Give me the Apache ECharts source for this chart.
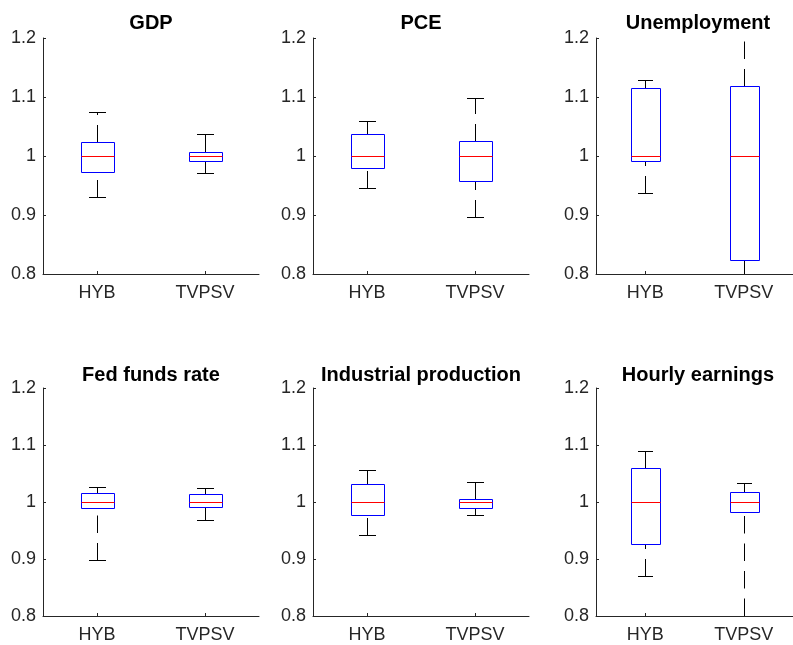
<!DOCTYPE html>
<html>
<head>
<meta charset="utf-8">
<script src="https://cdn.jsdelivr.net/npm/echarts@6/dist/echarts.min.js"></script>
<style>
html,body{margin:0;padding:0;background:#fff;}
#chart{width:793px;height:645px;}
</style>
</head>
<body>
<div id="chart"></div>
<script>
// ---- data ----
const panelTitles = ['GDP', 'PCE', 'Unemployment', 'Fed funds rate', 'Industrial production', 'Hourly earnings'];
const categories = ['HYB', 'TVPSV'];
const yTicks = [0.8, 0.9, 1.0, 1.1, 1.2];
// each box: [lower whisker, Q1, median, Q3, upper whisker]
const gdpBoxes          = [[0.930, 0.973, 1.000, 1.023, 1.074], [0.972, 0.991, 1.000, 1.007, 1.038]];
const pceBoxes          = [[0.946, 0.979, 1.000, 1.037, 1.059], [0.897, 0.958, 1.000, 1.025, 1.098]];
const unemploymentBoxes = [[0.937, 0.991, 1.000, 1.115, 1.129], [0.750, 0.823, 1.000, 1.118, 1.240]];
const fedFundsBoxes     = [[0.898, 0.990, 1.000, 1.016, 1.026], [0.969, 0.991, 1.000, 1.014, 1.025]];
const indProdBoxes      = [[0.942, 0.977, 1.000, 1.032, 1.057], [0.978, 0.989, 1.000, 1.005, 1.035]];
const earningsBoxes     = [[0.870, 0.927, 1.000, 1.060, 1.089], [0.740, 0.982, 1.000, 1.018, 1.033]];
const allBoxes = [gdpBoxes, pceBoxes, unemploymentBoxes, fedFundsBoxes, indProdBoxes, earningsBoxes];

// ---- layout ----
const grids = [
  {left: 43, top: 38, width: 216, height: 236},
  {left: 313, top: 38, width: 216, height: 236},
  {left: 596, top: 38, width: 204, height: 236},
  {left: 43, top: 388, width: 216, height: 228},
  {left: 313, top: 388, width: 216, height: 228},
  {left: 596, top: 388, width: 204, height: 228}
];
const titleTops = [13, 13, 13, 365, 365, 365];
const axisColor = '#262626';
const font = 'Liberation Sans, Arial, Helvetica, sans-serif';

function renderItem(params, api) {
  const xi = api.value(0);
  const lo = api.value(1), q1 = api.value(2), med = api.value(3), q3 = api.value(4), hi = api.value(5);
  const band = api.size([1, 0])[0];
  const cs = params.coordSys;
  const yTop = cs.y, yBot = cs.y + cs.height;
  const cl = y => Math.max(yTop, Math.min(yBot, y));
  const cx = Math.round(api.coord([xi, med])[0]) + 0.5;
  const py = v => Math.round(api.coord([xi, v])[1]) + 0.5;
  const halfBox = band * 0.15, halfCap = band * 0.075;
  const yLo = py(lo), yQ1 = py(q1), yMed = py(med), yQ3 = py(q3), yHi = py(hi);
  const dash = [17.5, 10];
  const kids = [];
  // lower whisker (drawn upward from the lower end)
  kids.push({type: 'line', shape: {x1: cx, y1: cl(yLo), x2: cx, y2: yQ1},
    style: {stroke: '#000', lineWidth: 1, lineDash: dash}});
  // upper whisker (drawn upward from the box)
  kids.push({type: 'line', shape: {x1: cx, y1: yQ3, x2: cx, y2: cl(yHi)},
    style: {stroke: '#000', lineWidth: 1, lineDash: dash}});
  if (yLo <= yBot) kids.push({type: 'line', shape: {x1: Math.round(cx - halfCap), y1: yLo, x2: Math.round(cx + halfCap), y2: yLo},
    style: {stroke: '#000', lineWidth: 1}});
  if (yHi >= yTop) kids.push({type: 'line', shape: {x1: Math.round(cx - halfCap), y1: yHi, x2: Math.round(cx + halfCap), y2: yHi},
    style: {stroke: '#000', lineWidth: 1}});
  const bx1 = Math.round(cx - halfBox) + 0.5, bx2 = Math.round(cx + halfBox) + 0.5;
  kids.push({type: 'rect', shape: {x: bx1, y: yQ3, width: bx2 - bx1, height: yQ1 - yQ3},
    style: {stroke: '#0000ff', fill: null, lineWidth: 1}});
  kids.push({type: 'line', shape: {x1: bx1, y1: yMed, x2: bx2, y2: yMed},
    style: {stroke: '#ff0000', lineWidth: 1}});
  return {type: 'group', children: kids};
}

const option = {
  animation: false,
  backgroundColor: '#fff',
  title: panelTitles.map((t, i) => ({
    text: t,
    left: grids[i].left + grids[i].width / 2,
    top: titleTops[i],
    textAlign: 'center',
    padding: 0,
    textStyle: {fontFamily: font, fontSize: 20, fontWeight: 'bold', color: '#000'}
  })),
  grid: grids,
  xAxis: grids.map((g, i) => ({
    type: 'category', gridIndex: i, data: categories,
    axisLine: {lineStyle: {color: axisColor, width: 1}},
    axisTick: {show: true, inside: true, length: 3, alignWithLabel: true, lineStyle: {color: axisColor}},
    axisLabel: {fontFamily: font, fontSize: 18, color: axisColor, margin: 10},
    splitLine: {show: false}
  })),
  yAxis: grids.map((g, i) => ({
    type: 'value', gridIndex: i, min: yTicks[0], max: yTicks[yTicks.length - 1], interval: 0.1,
    axisLine: {show: true, lineStyle: {color: axisColor, width: 1}},
    axisTick: {show: true, inside: true, length: 3, lineStyle: {color: axisColor}},
    axisLabel: {fontFamily: font, fontSize: 18, color: axisColor, margin: 7,
      formatter: v => String(+(+v).toFixed(1))},
    splitLine: {show: false}
  })),
  series: allBoxes.map((boxes, i) => ({
    type: 'custom', xAxisIndex: i, yAxisIndex: i,
    renderItem: renderItem,
    encode: {x: 0, y: [1, 2, 3, 4, 5]},
    data: boxes.map((b, k) => [k].concat(b))
  }))
};

const chart = echarts.init(document.getElementById('chart'));
chart.setOption(option);
</script>
</body>
</html>
